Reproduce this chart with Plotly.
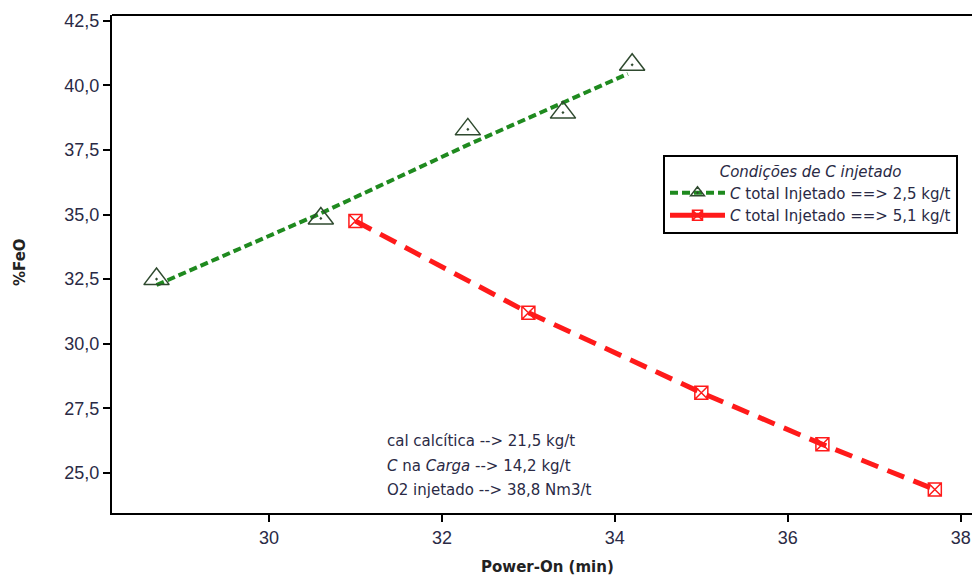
import plotly.graph_objects as go

# Measured series: %FeO versus power-on time
green_x = [28.7, 30.6, 32.3, 33.4, 34.2]
green_y = [32.5, 34.85, 38.3, 38.95, 40.8]
# fitted trend for the 2,5 kg/t series
green_fit_x = [28.7, 30.6, 32.3, 33.4, 34.15]
green_fit_y = [32.27, 35.05, 37.7, 39.35, 40.45]

red_x = [31.0, 33.0, 35.0, 36.4, 37.7]
red_y = [34.75, 31.2, 28.1, 26.1, 24.35]

green_name = "<i>C</i> total Injetado ==> 2,5 kg/t"
red_name = "<i>C</i> total Injetado ==> 5,1 kg/t"
legend_title = "<i>Condições de C injetado</i>"
notes = [
    "cal calcítica --> 21,5 kg/t",
    "<i>C</i> na <i>Carga</i> --> 14,2 kg/t",
    "O2 injetado --> 38,8 Nm3/t",
]
x_ticks = [30, 32, 34, 36, 38]
y_ticks = [25.0, 27.5, 30.0, 32.5, 35.0, 37.5, 40.0, 42.5]

GREEN = "#1f8a1f"
GREEN_MK = "#2f4a2f"
RED = "#ff1a1a"
TXT = "#2a2a45"
FONT = "Liberation Sans"
NOTE_FONT = "DejaVu Sans"

fig = go.Figure()

fig.add_trace(go.Scatter(
    x=green_fit_x, y=green_fit_y, mode="lines", showlegend=False,
    line=dict(color=GREEN, width=4, dash="8px,4px"), hoverinfo="skip"))
fig.add_trace(go.Scatter(
    x=green_x, y=green_y, mode="markers", showlegend=False,
    marker=dict(symbol="triangle-up-open-dot", size=22, color=GREEN_MK,
                line=dict(width=1.5, color=GREEN_MK))))
fig.add_trace(go.Scatter(
    x=red_x, y=red_y, mode="lines+markers", showlegend=False,
    line=dict(color=RED, width=5, dash="18px,10px"),
    marker=dict(symbol="square-x-open", size=13, color=RED,
                line=dict(width=1.5, color=RED))))

# legend entries
fig.add_trace(go.Scatter(
    x=[None], y=[None], mode="lines+markers", name=green_name,
    line=dict(color=GREEN, width=4, dash="8px,4px"),
    marker=dict(symbol="triangle-up-open-dot", size=12, color=GREEN_MK,
                line=dict(width=1.5, color=GREEN_MK))))
fig.add_trace(go.Scatter(
    x=[None], y=[None], mode="lines+markers", name=red_name,
    line=dict(color=RED, width=5),
    marker=dict(symbol="square-x-open", size=10, color=RED,
                line=dict(width=1.5, color=RED))))

L, R, T, B = 112, 0, 15, 63
W, H = 972, 576
pw, ph = W - L - R, H - T - B

fig.update_layout(
    width=W, height=H,
    margin=dict(l=L, r=R, t=T, b=B),
    paper_bgcolor="white", plot_bgcolor="white",
    separators=", ",
    font=dict(family=FONT, color=TXT, size=15),
    showlegend=True,
    legend=dict(
        x=(663 - L) / pw, y=(H - B - 155) / ph, xanchor="left", yanchor="top",
        bordercolor="black", borderwidth=2, bgcolor="white",
        font=dict(family=NOTE_FONT, size=15, color=TXT),
        title=dict(text=legend_title, side="top center",
                   font=dict(family=NOTE_FONT, size=15, color=TXT)),
        itemwidth=55, tracegroupgap=0,
    ),
    xaxis=dict(
        range=[28.185, 38.13], tickvals=x_ticks, ticks="outside", ticklen=7,
        tickwidth=2, tickcolor="black", showline=True, linecolor="black",
        linewidth=2, showgrid=False, zeroline=False,
        tickfont=dict(family=FONT, size=18, color=TXT),
    ),
    yaxis=dict(
        range=[23.44, 42.73], tickvals=y_ticks, tickformat=".1f",
        ticks="outside", ticklen=7, tickwidth=2, tickcolor="black",
        showline=True, linecolor="black", linewidth=2, showgrid=False,
        zeroline=False, tickfont=dict(family=FONT, size=18, color=TXT),
    ),
    shapes=[dict(type="line", xref="paper", yref="paper", x0=0, x1=1, y0=1, y1=1,
                 line=dict(color="black", width=2))],
)

# axis titles
fig.add_annotation(text="<b>%FeO</b>", xref="paper", yref="paper",
                   x=(20 - L) / pw, y=(H - B - 262) / ph, textangle=-90,
                   showarrow=False, font=dict(family=NOTE_FONT, size=15, color="#222"),
                   xanchor="center", yanchor="middle")
fig.add_annotation(text="<b>Power-On (min)</b>", xref="paper", yref="paper",
                   x=(547 - L) / pw, y=-(567 - (H - B)) / ph,
                   showarrow=False, font=dict(family=NOTE_FONT, size=15, color="#222"),
                   xanchor="center", yanchor="middle")

# process notes
for i, t in enumerate(notes):
    fig.add_annotation(text=t, xref="paper", yref="paper",
                       x=(385 - L) / pw, y=(H - B - (441 + 24.5 * i)) / ph,
                       xanchor="left", yanchor="middle", showarrow=False,
                       font=dict(family=NOTE_FONT, size=15, color=TXT))

fig.write_html("out.html")
